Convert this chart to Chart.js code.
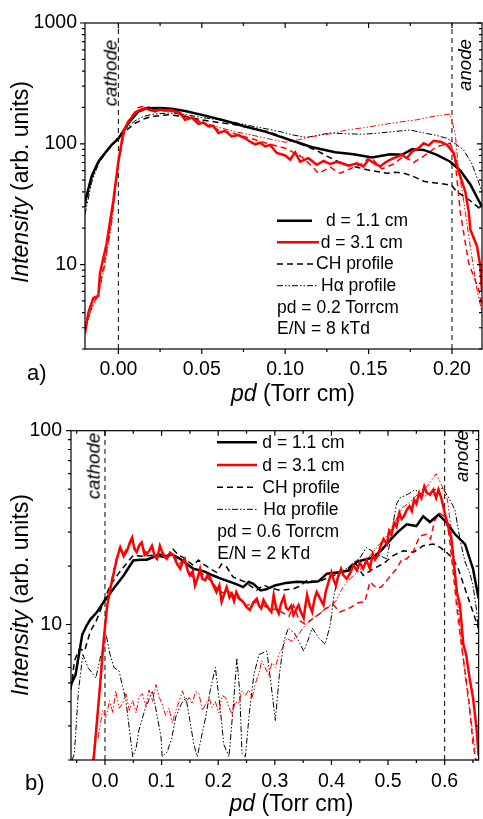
<!DOCTYPE html>
<html>
<head>
<meta charset="utf-8">
<script src="https://cdn.jsdelivr.net/npm/chart.js@4.4.1/dist/chart.umd.min.js"></script>
<style>
html,body{margin:0;padding:0;background:#fff;}
body{position:relative;width:483px;height:819px;overflow:hidden;font-family:"Liberation Sans",Arial,sans-serif;color:#000;}
.pane{position:absolute;left:0;width:483px;}
.t{position:absolute;white-space:nowrap;line-height:1;}
.r{transform:translate(-50%,-50%) rotate(-90deg);}
.i{font-style:italic;}
.lg{font-size:17.5px;}
.ax{font-size:23px;}
.an{font-size:18.7px;font-style:italic;}
.pl{font-size:22px;}
</style>
</head>
<body>
<div class="pane" style="top:0;height:410px"><canvas id="chartA"></canvas></div>
<div class="pane" style="top:410px;height:409px"><canvas id="chartB"></canvas></div>

<div class="t ax r" style="left:20.4px;top:181.5px"><span class="i">Intensity</span> (arb. units)</div>
<div class="t ax" style="left:231px;top:382.4px"><span class="i">pd</span> (Torr cm)</div>
<div class="t pl" style="left:27px;top:362.4px">a)</div>
<div class="t an r" style="left:110.8px;top:72.7px">cathode</div>
<div class="t an r" style="left:464.8px;top:64.5px">anode</div>
<div class="t lg" style="left:326px;top:211.9px">d = 1.1 cm</div>
<div class="t lg" style="left:320.7px;top:233.5px">d = 3.1 cm</div>
<div class="t lg" style="left:316px;top:255.2px">CH profile</div>
<div class="t lg" style="left:321px;top:276.9px">Hα profile</div>
<div class="t lg" style="left:277px;top:298.5px">pd = 0.2 Torrcm</div>
<div class="t lg" style="left:277px;top:320.2px">E/N = 8 kTd</div>

<div class="t ax r" style="left:20.4px;top:594.5px"><span class="i">Intensity</span> (arb. units)</div>
<div class="t ax" style="left:229.5px;top:792.4px"><span class="i">pd</span> (Torr cm)</div>
<div class="t pl" style="left:25px;top:772.4px">b)</div>
<div class="t an r" style="left:94px;top:466.3px">cathode</div>
<div class="t an r" style="left:462px;top:455.8px">anode</div>
<div class="t lg" style="left:262.3px;top:434.2px">d = 1.1 cm</div>
<div class="t lg" style="left:262.3px;top:456.9px">d = 3.1 cm</div>
<div class="t lg" style="left:262.3px;top:478.5px">CH profile</div>
<div class="t lg" style="left:263.3px;top:500.5px">Hα profile</div>
<div class="t lg" style="left:217.3px;top:522.9px">pd = 0.6 Torrcm</div>
<div class="t lg" style="left:217.3px;top:545.2px">E/N = 2 kTd</div>

<script>
// ---------------- Panel a data (pd = 0.2 Torr cm) ----------------
const aXRange = [-0.02, 0.218];
const aYRange = [2, 1000];
const aXMajor = [0, 0.05, 0.10, 0.15, 0.20];
const aXMinorStep = 0.025;
const aYMajor = [10, 100, 1000];
const aElectrodes = [0, 0.2];

const aTotal11 = [[-0.02,33],[-0.016,54],[-0.012,71],[-0.008,84],[-0.004,98],[0.0,110],[0.006,148],[0.012,185],[0.017,197],[0.025,198],[0.032,195],[0.04,187],[0.052,171],[0.064,155],[0.076,139],[0.088,126],[0.1,111],[0.109,101],[0.117,93],[0.13,85],[0.141,82],[0.152,77],[0.163,82],[0.17,81],[0.176,90],[0.183,89],[0.191,81],[0.199,71],[0.205,60],[0.211,46],[0.218,30]];
const aTotal31 = [[-0.02,2.7],[-0.018,4.0],[-0.015,5.3],[-0.012,5.5],[-0.011,8.5],[-0.007,15],[-0.003,34],[0.0,71],[0.003,126],[0.006,153],[0.011,185],[0.016,197],[0.019,190],[0.022,185],[0.025,192],[0.028,188],[0.031,191],[0.034,185],[0.037,180],[0.04,158],[0.044,165],[0.048,146],[0.051,150],[0.054,139],[0.057,141],[0.06,123],[0.064,128],[0.068,115],[0.072,118],[0.076,111],[0.079,104],[0.082,99],[0.085,102],[0.088,95],[0.091,98],[0.095,84],[0.1,80],[0.103,74],[0.106,85],[0.109,71],[0.114,76],[0.119,67],[0.123,72],[0.127,68],[0.131,71],[0.134,69],[0.138,66],[0.143,69],[0.147,65],[0.15,74],[0.154,68],[0.157,65],[0.16,70],[0.163,74],[0.167,78],[0.17,81],[0.173,76],[0.176,86],[0.18,92],[0.183,101],[0.186,97],[0.189,106],[0.193,104],[0.197,98],[0.201,84],[0.204,59],[0.208,40],[0.21,27.6],[0.211,19.5],[0.215,14.2],[0.217,9.7],[0.218,6]];
const aCH11 = [[-0.02,30],[-0.016,52],[-0.012,70],[-0.006,90],[0.0,112],[0.005,130],[0.01,148],[0.015,160],[0.02,168],[0.03,174],[0.04,168],[0.05,158],[0.06,150],[0.07,144],[0.08,134],[0.09,126],[0.1,112],[0.106,104],[0.113,95],[0.119,88],[0.125,79],[0.131,72],[0.137,67],[0.143,64],[0.149,61],[0.155,59],[0.161,57],[0.166,58],[0.171,57],[0.175,55],[0.179,52],[0.183,49],[0.187,48],[0.192,47],[0.197,46],[0.2,45],[0.203,40],[0.208,36],[0.212,33],[0.218,28]];
const aCH31 = [[-0.02,2.9],[-0.016,4.5],[-0.012,5.8],[-0.008,11],[-0.004,24],[0.0,70],[0.004,135],[0.008,170],[0.012,200],[0.016,205],[0.022,195],[0.03,192],[0.04,168],[0.05,150],[0.06,130],[0.07,121],[0.08,110],[0.09,100],[0.1,92],[0.11,78],[0.116,65],[0.12,57],[0.127,64],[0.133,57],[0.14,63],[0.145,67],[0.151,78],[0.158,62],[0.165,68],[0.171,79],[0.177,70],[0.183,79],[0.191,95],[0.199,101],[0.202,70],[0.205,27],[0.21,10.3],[0.216,6.2],[0.218,4.5]];
const aHa11 = [[-0.02,26],[-0.016,48],[-0.012,68],[-0.006,90],[0.0,115],[0.005,135],[0.01,155],[0.015,168],[0.02,175],[0.03,180],[0.04,175],[0.05,165],[0.06,158],[0.07,150],[0.08,140],[0.09,132],[0.097,126],[0.105,118],[0.113,113],[0.12,118],[0.127,123],[0.137,121],[0.147,120],[0.157,123],[0.167,127],[0.175,130],[0.183,123],[0.19,118],[0.197,111],[0.202,100],[0.207,89],[0.212,68],[0.216,48],[0.218,40]];
const aHa31 = [[-0.02,3.0],[-0.016,4.3],[-0.012,5.6],[-0.008,10],[-0.004,22],[0.0,68],[0.004,130],[0.008,165],[0.012,190],[0.016,200],[0.022,192],[0.03,186],[0.04,172],[0.05,152],[0.06,137],[0.07,126],[0.08,118],[0.09,110],[0.1,103],[0.108,108],[0.117,115],[0.127,121],[0.137,130],[0.147,136],[0.157,143],[0.168,151],[0.179,158],[0.19,170],[0.199,176],[0.202,120],[0.204,60],[0.207,34],[0.211,14],[0.215,6.2],[0.218,4]];

// ---------------- Panel b data (pd = 0.6 Torr cm) ----------------
const bXRange = [-0.06, 0.66];
const bYRange = [2, 100];
const bXMajor = [0.0, 0.1, 0.2, 0.3, 0.4, 0.5, 0.6];
const bXMinorStep = 0.05;
const bYMajor = [10, 100];
const bElectrodes = [0, 0.6];

const bTotal11 = [[-0.06,4.9],[-0.052,5.5],[-0.046,7.0],[-0.04,8.9],[-0.033,9.8],[-0.026,10.6],[-0.014,11.6],[-0.002,13.1],[0.015,15.3],[0.033,17.9],[0.05,21.4],[0.062,21.6],[0.074,21.6],[0.092,22.7],[0.105,22.3],[0.118,23.1],[0.133,21.8],[0.145,20.5],[0.156,19.4],[0.175,18.8],[0.191,17.9],[0.206,17.2],[0.221,16.6],[0.233,16.1],[0.244,15.6],[0.254,16.6],[0.262,16.2],[0.275,15.0],[0.285,15.2],[0.3,15.9],[0.32,16.4],[0.339,16.6],[0.358,16.5],[0.377,16.7],[0.392,18.3],[0.415,18.6],[0.43,19.0],[0.445,21.1],[0.474,22.2],[0.49,24.5],[0.5,26.5],[0.517,30],[0.533,32.9],[0.55,32.2],[0.562,36.2],[0.574,33.8],[0.589,36.9],[0.603,33.8],[0.618,29.3],[0.636,26],[0.65,19.4],[0.66,13.6]];
const bTotal31 = [[-0.02,2.0],[-0.014,3.2],[-0.008,5.1],[-0.002,8.5],[0.004,12.6],[0.012,16.6],[0.021,21.8],[0.027,25],[0.033,22.5],[0.039,24.0],[0.044,26.5],[0.048,28.1],[0.052,24.5],[0.056,23.6],[0.061,25.8],[0.065,26.5],[0.07,22.8],[0.074,23.1],[0.079,24.2],[0.083,25.5],[0.088,22.4],[0.092,21.8],[0.097,25.5],[0.103,22.8],[0.109,21.8],[0.115,23.5],[0.121,22.7],[0.127,20.6],[0.133,19.4],[0.137,21.0],[0.141,21.8],[0.146,19.0],[0.15,17.9],[0.155,18.8],[0.159,15.9],[0.164,17.5],[0.168,19.4],[0.172,17.2],[0.177,16.9],[0.181,18.0],[0.185,17.6],[0.191,16.0],[0.197,14.7],[0.202,15.9],[0.206,13.1],[0.21,14.2],[0.215,15.6],[0.22,13.8],[0.224,14.4],[0.228,13.2],[0.232,14.7],[0.238,13.5],[0.244,13.1],[0.25,12.3],[0.256,11.9],[0.262,13.0],[0.268,13.6],[0.272,12.5],[0.276,12.1],[0.28,13.4],[0.285,12.6],[0.29,12.0],[0.294,11.6],[0.298,14.2],[0.302,12.3],[0.307,11.4],[0.311,12.8],[0.316,13.9],[0.32,12.2],[0.324,11.9],[0.329,12.5],[0.333,11.2],[0.338,12.0],[0.342,12.6],[0.346,11.6],[0.351,10.8],[0.354,12.5],[0.357,14.2],[0.362,12.4],[0.366,11.6],[0.37,13.5],[0.374,14.7],[0.38,13.6],[0.386,12.6],[0.39,14.8],[0.395,16.6],[0.4,18.6],[0.404,17.0],[0.408,15.9],[0.412,17.8],[0.417,19.4],[0.421,18.0],[0.427,17.2],[0.433,18.4],[0.439,20.2],[0.445,19.0],[0.45,20.9],[0.456,19.4],[0.462,21.5],[0.468,19.4],[0.473,23.1],[0.477,21.6],[0.482,22.7],[0.486,25.0],[0.492,27.6],[0.498,26.0],[0.502,30.4],[0.506,29.0],[0.511,33.5],[0.515,32.0],[0.52,37.7],[0.524,35.0],[0.528,36.2],[0.533,39.0],[0.538,40.8],[0.542,38.5],[0.546,44.1],[0.55,42.0],[0.555,47.7],[0.559,45.0],[0.564,51.6],[0.568,48.0],[0.574,46.7],[0.58,49.6],[0.585,45.0],[0.589,49.6],[0.594,45.0],[0.6,37.7],[0.606,32.2],[0.612,27.6],[0.618,18.6],[0.622,14.5],[0.627,12.6],[0.633,7.9],[0.638,7.0],[0.644,5.3],[0.65,4.2],[0.656,2.96],[0.66,2.1]];
const bCH11 = [[-0.06,4.6],[-0.054,6.5],[-0.045,7.5],[-0.036,7.3],[-0.026,9.2],[-0.015,10.5],[-0.005,12.5],[0.009,15.9],[0.025,18.5],[0.04,21],[0.05,22.7],[0.065,22.5],[0.08,22.7],[0.097,23.1],[0.11,22.5],[0.12,24.5],[0.13,22.8],[0.138,22.2],[0.156,20.2],[0.165,21.5],[0.174,20.5],[0.185,19.5],[0.197,18.6],[0.206,20.5],[0.215,19.8],[0.226,17.6],[0.247,16.6],[0.268,15.0],[0.28,16.0],[0.29,15.5],[0.31,15.0],[0.333,15.3],[0.345,15.8],[0.357,16.9],[0.377,16.6],[0.395,17.5],[0.41,18.2],[0.425,19],[0.442,20.9],[0.456,17.9],[0.474,19.4],[0.492,20.6],[0.509,22.7],[0.527,24.0],[0.545,23.6],[0.562,25.5],[0.58,26.0],[0.592,25.0],[0.603,23.6],[0.615,21.8],[0.624,19.4],[0.636,15.3],[0.65,11.6],[0.66,9.5]];
const bCH31 = [[-0.021,2.0],[-0.015,3.0],[-0.009,4.8],[-0.003,8.0],[0.003,12.0],[0.01,16.0],[0.018,20.5],[0.025,24.5],[0.032,23.0],[0.04,25.0],[0.047,27.0],[0.055,24.0],[0.063,26.0],[0.072,23.5],[0.082,25.0],[0.09,22.5],[0.1,24.0],[0.11,22.0],[0.12,23.5],[0.13,20.5],[0.14,21.5],[0.15,18.5],[0.16,16.5],[0.17,18.5],[0.18,17.5],[0.19,16.5],[0.2,15.0],[0.21,14.5],[0.22,14.8],[0.23,13.8],[0.24,13.5],[0.25,12.5],[0.26,12.8],[0.27,13.2],[0.28,12.6],[0.29,12.0],[0.3,12.0],[0.312,11.6],[0.325,11.0],[0.333,12.6],[0.343,10.5],[0.355,10.0],[0.368,10.8],[0.38,11.4],[0.39,12.1],[0.404,12.6],[0.415,11.6],[0.433,12.2],[0.445,12.9],[0.459,13.1],[0.468,16.6],[0.48,15.4],[0.488,15.6],[0.5,17.2],[0.515,19.4],[0.525,21.8],[0.533,21.8],[0.545,24.0],[0.556,28.6],[0.568,29.2],[0.575,27.6],[0.582,34.1],[0.59,37.7],[0.6,36],[0.607,30],[0.614,20],[0.621,12.6],[0.628,8.5],[0.636,5.75],[0.643,4],[0.65,2.43],[0.655,2.0]];
const bHa11 = [[-0.058,2.0],[-0.054,2.16],[-0.047,4.5],[-0.039,7.0],[-0.03,6.0],[-0.016,5.3],[-0.008,6.8],[0.002,8.9],[0.009,7.0],[0.016,6.0],[0.025,5.75],[0.031,4.8],[0.037,4.05],[0.043,2.9],[0.049,2.08],[0.055,2.3],[0.06,2.85],[0.07,3.6],[0.084,4.55],[0.092,3.4],[0.099,2.63],[0.101,2.08],[0.11,2.2],[0.118,2.6],[0.125,3.33],[0.135,3.9],[0.143,4.2],[0.15,3.2],[0.157,2.4],[0.163,2.08],[0.17,2.6],[0.178,3.33],[0.186,4.6],[0.195,6.0],[0.203,3.8],[0.21,2.4],[0.219,2.08],[0.226,3.6],[0.233,6.7],[0.238,4.5],[0.242,2.16],[0.248,2.08],[0.255,3.5],[0.263,5.5],[0.272,7.0],[0.286,7.3],[0.293,5.0],[0.301,3.2],[0.308,5.5],[0.316,8.2],[0.324,9.6],[0.335,9.0],[0.351,7.3],[0.358,8.2],[0.366,9.6],[0.378,8.5],[0.389,7.9],[0.398,10.0],[0.405,14.5],[0.415,18.6],[0.428,19.5],[0.439,20.9],[0.45,22],[0.462,25],[0.475,23.5],[0.488,22.5],[0.498,21.8],[0.508,32],[0.515,42],[0.521,45],[0.535,47],[0.548,49.6],[0.565,45.8],[0.58,49.6],[0.597,50.5],[0.609,44.1],[0.618,39.2],[0.627,27.6],[0.636,21],[0.644,18.6],[0.65,15.9],[0.656,12],[0.66,9]];
const bHa31 = [[-0.012,2.6],[-0.004,3.6],[0.002,3.3],[0.008,4.05],[0.014,3.5],[0.019,4.55],[0.025,3.7],[0.031,3.9],[0.037,4.4],[0.043,3.6],[0.049,4.05],[0.055,3.5],[0.06,4.2],[0.066,4.4],[0.072,3.8],[0.078,4.6],[0.084,4.0],[0.09,4.9],[0.096,4.2],[0.101,3.9],[0.107,3.4],[0.113,3.7],[0.119,3.1],[0.125,3.6],[0.131,4.0],[0.137,4.55],[0.143,4.0],[0.149,4.2],[0.154,3.9],[0.16,4.5],[0.166,4.4],[0.172,3.6],[0.178,3.9],[0.184,4.2],[0.189,3.74],[0.195,4.0],[0.201,3.5],[0.207,4.3],[0.213,4.2],[0.219,3.74],[0.225,3.4],[0.23,4.0],[0.236,3.9],[0.242,4.55],[0.248,4.3],[0.254,4.6],[0.26,4.2],[0.266,5.0],[0.272,5.6],[0.277,6.5],[0.283,6.0],[0.289,5.5],[0.295,6.35],[0.301,6.0],[0.307,7.0],[0.314,7.6],[0.321,8.5],[0.33,8.2],[0.342,8.9],[0.35,9.6],[0.36,10.4],[0.37,10.9],[0.383,11.6],[0.395,12.4],[0.407,13.1],[0.42,15.5],[0.435,17.5],[0.45,19],[0.465,22],[0.48,25],[0.495,28],[0.51,33],[0.525,40],[0.54,43],[0.555,48],[0.57,52],[0.585,60],[0.595,52],[0.605,44],[0.612,30],[0.618,18],[0.624,12],[0.63,8],[0.636,5.5],[0.642,4],[0.648,3],[0.654,2.2]];

// ---------------- styles ----------------
const BLACK = '#000000', RED = '#ff0000';
const STYLE = {
  solid:   {borderWidth: 2.5, borderDash: []},
  dashed:  {borderWidth: 1.5, borderDash: [6, 4]},
  dashdot: {borderWidth: 1,   borderDash: [6, 2, 1.5, 2, 1.5, 2]},
  wall:    {borderWidth: 1,   borderDash: [5, 4]}
};
const FONT = 'Liberation Sans';

function toXY(arr) { return arr.map(p => ({x: p[0], y: p[1]})); }
function series(arr, color, kind) {
  return Object.assign({data: toXY(arr), borderColor: color, backgroundColor: color,
    pointRadius: 0, tension: 0, fill: false, clip: 0}, STYLE[kind]);
}
function wall(xv, yr) {
  return series([[xv, yr[0]], [xv, yr[1]]], BLACK, 'wall');
}
function near(v, list) { return list.some(m => Math.abs(m - v) < 1e-9); }

const framePlugin = {
  id: 'frame',
  afterDraw(chart, args, opts) {
    const ctx = chart.ctx, a = chart.chartArea, x = chart.scales.x, y = chart.scales.y;
    ctx.save();
    ctx.strokeStyle = '#000'; ctx.lineWidth = 1.2; ctx.setLineDash([]);
    ctx.strokeRect(a.left, a.top, a.right - a.left, a.bottom - a.top);
    ctx.beginPath();
    x.ticks.forEach(t => {
      const px = x.getPixelForValue(t.value), len = t.label ? 5 : 3;
      ctx.moveTo(px, a.bottom); ctx.lineTo(px, a.bottom + len);
      ctx.moveTo(px, a.top); ctx.lineTo(px, a.top + len);
    });
    y.ticks.forEach(t => {
      const py = y.getPixelForValue(t.value), len = t.label ? 5 : 3;
      ctx.moveTo(a.left - len, py); ctx.lineTo(a.left, py);
      ctx.moveTo(a.right - len, py); ctx.lineTo(a.right, py);
    });
    ctx.stroke();
    (opts.samples || []).forEach(s => {
      const st = STYLE[s.kind];
      ctx.beginPath();
      ctx.strokeStyle = s.color; ctx.lineWidth = st.borderWidth; ctx.setLineDash(st.borderDash);
      ctx.moveTo(s.x0, s.y); ctx.lineTo(s.x1, s.y); ctx.stroke();
    });
    ctx.restore();
  }
};

function makeChart(id, P) {
  const xTicks = [], yTicks = [];
  const n0 = Math.ceil(P.xRange[0] / P.xStep - 1e-9), n1 = Math.floor(P.xRange[1] / P.xStep + 1e-9);
  for (let k = n0; k <= n1; k++) xTicks.push(Math.round(k * P.xStep * 1e6) / 1e6);
  for (let e = -1; e <= 4; e++) for (let d = 1; d <= 9; d++) {
    const v = d * Math.pow(10, e);
    if (v >= P.yRange[0] - 1e-9 && v <= P.yRange[1] + 1e-9) yTicks.push(Math.round(v * 1e6) / 1e6);
  }
  const datasets = [
    series(P.total31, RED, 'solid'),
    series(P.total11, BLACK, 'solid'),
    series(P.ch31, RED, 'dashed'),
    series(P.ch11, BLACK, 'dashed'),
    series(P.ha31, RED, 'dashdot'),
    series(P.ha11, BLACK, 'dashdot'),
    ...P.walls.map(w => wall(w, P.yRange))
  ];
  return new Chart(document.getElementById(id), {
    type: 'line',
    data: {datasets},
    plugins: [framePlugin],
    options: {
      responsive: true, maintainAspectRatio: false, animation: false,
      layout: {padding: P.padding},
      plugins: {legend: {display: false}, tooltip: {enabled: false}, frame: {samples: P.samples}},
      scales: {
        x: {
          type: 'linear', min: P.xRange[0], max: P.xRange[1], bounds: 'data',
          grid: {display: false, drawTicks: false, tickLength: 0}, border: {display: false},
          afterBuildTicks: s => { s.ticks = xTicks.map(v => ({value: v})); },
          afterFit: s => { s.height = P.xHeight; },
          ticks: {autoSkip: false, maxRotation: 0, padding: P.xPad, color: '#000',
            font: {family: FONT, size: 19.5},
            callback: v => near(v, P.xMajor) ? v.toFixed(P.xDec) : ''}
        },
        y: {
          type: 'logarithmic', min: P.yRange[0], max: P.yRange[1],
          grid: {display: false, drawTicks: false, tickLength: 0}, border: {display: false},
          afterBuildTicks: s => { s.ticks = yTicks.map(v => ({value: v})); },
          afterFit: s => { s.width = P.yWidth; },
          ticks: {autoSkip: false, padding: P.yPad, color: '#000',
            font: {family: FONT, size: 19.5},
            callback: v => near(v, P.yMajor) ? String(v) : ''}
        }
      }
    }
  });
}

makeChart('chartA', {
  xRange: aXRange, yRange: aYRange, xStep: aXMinorStep, xMajor: aXMajor, yMajor: aYMajor, xDec: 2,
  total11: aTotal11, total31: aTotal31, ch11: aCH11, ch31: aCH31, ha11: aHa11, ha31: aHa31,
  walls: aElectrodes,
  padding: {top: 23, right: 1, left: 0, bottom: 0}, xHeight: 61, yWidth: 85, xPad: 9, yPad: 8,
  samples: [
    {x0: 277, x1: 312, y: 220.7, color: BLACK, kind: 'solid'},
    {x0: 277, x1: 319, y: 242.3, color: RED, kind: 'solid'},
    {x0: 277, x1: 313, y: 264, color: BLACK, kind: 'dashed'},
    {x0: 277, x1: 318, y: 285.7, color: BLACK, kind: 'dashdot'}
  ]
});

makeChart('chartB', {
  xRange: bXRange, yRange: bYRange, xStep: bXMinorStep, xMajor: bXMajor, yMajor: bYMajor, xDec: 1,
  total11: bTotal11, total31: bTotal31, ch11: bCH11, ch31: bCH31, ha11: bHa11, ha31: bHa31,
  walls: bElectrodes,
  padding: {top: 17, right: 2, left: 0, bottom: 0}, xHeight: 59, yWidth: 71, xPad: 10, yPad: 9,
  samples: [
    {x0: 217, x1: 257, y: 32.3, color: BLACK, kind: 'solid'},
    {x0: 217, x1: 257, y: 55, color: RED, kind: 'solid'},
    {x0: 217, x1: 257, y: 77.3, color: BLACK, kind: 'dashed'},
    {x0: 217, x1: 257, y: 99.3, color: BLACK, kind: 'dashdot'}
  ]
});
</script>
</body>
</html>
